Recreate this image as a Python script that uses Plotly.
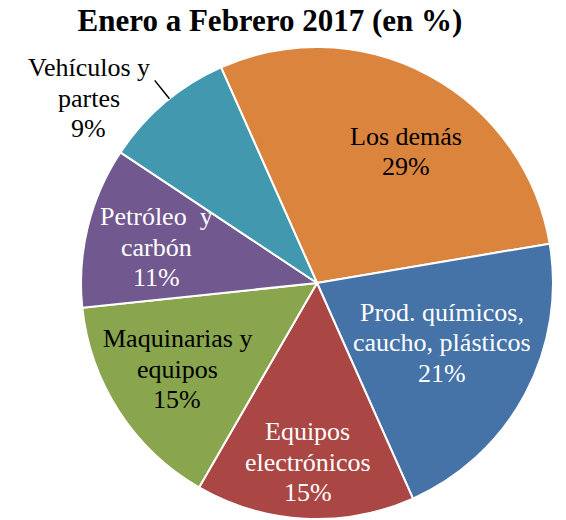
import math
import plotly.graph_objects as go

categories = ["Los demás", "Prod. químicos,<br>caucho, plásticos", "Equipos<br>electrónicos",
              "Maquinarias y<br>equipos", "Petróleo  y<br>carbón", "Vehículos y<br>partes"]
values = [29, 21, 15, 15, 11, 9]
colors = ["#DB843D", "#4572A7", "#AA4643", "#89A54E", "#71588F", "#4198AF"]
title = "Enero a Febrero 2017 (en %)"

# label styling (placement relative to slice middle, colour)
text_colors = ["black", "white", "white", "black", "white", "black"]
label_radius = [0.673, 0.588, 0.760, 0.696, 0.699, 1.244]
label_angle_shift = [5.9, -2.6, 0.0, 1.4, -1.2, -10.8]

W, H = 566, 520
cx, cy, r = 317, 283, 236
start_angle = -24  # degrees clockwise from 12 o'clock
font_size = 26
line_gap = 30.5

fig = go.Figure(go.Pie(
    labels=categories,
    values=values,
    sort=False,
    direction="clockwise",
    rotation=start_angle,
    marker=dict(colors=colors, line=dict(color="white", width=2)),
    textinfo="none",
    showlegend=False,
    hoverinfo="skip",
    domain=dict(x=[(cx - r) / W, (cx + r) / W], y=[1 - (cy + r) / H, 1 - (cy - r) / H]),
))

total = sum(values)
cum = 0
for i, (lab, v) in enumerate(zip(categories, values)):
    mid = start_angle + 360 * (cum + v / 2) / total
    cum += v
    ang = math.radians(mid + label_angle_shift[i])
    px = cx + label_radius[i] * r * math.sin(ang)
    py = cy - label_radius[i] * r * math.cos(ang)
    lines = lab.split("<br>") + [f"{v}%"]
    n = len(lines)
    for k, ln in enumerate(lines):
        ly = py + (k - (n - 1) / 2) * line_gap
        fig.add_annotation(
            x=px / W, y=1 - ly / H, xref="paper", yref="paper",
            xanchor="center", yanchor="middle",
            text=ln, showarrow=False,
            font=dict(family="Liberation Serif", size=font_size, color=text_colors[i]),
        )
    if label_radius[i] > 1:
        a2 = math.radians(mid + 1.5)
        fig.add_shape(type="line", xref="paper", yref="paper",
                      x0=(cx + 1.0 * r * math.sin(a2)) / W, y0=1 - (cy - 1.0 * r * math.cos(a2)) / H,
                      x1=(cx + 1.1 * r * math.sin(a2)) / W, y1=1 - (cy - 1.1 * r * math.cos(a2)) / H,
                      line=dict(color="black", width=1.5))

fig.update_layout(
    width=W, height=H,
    margin=dict(l=0, r=0, t=0, b=0),
    paper_bgcolor="white",
    title=dict(text=f"<b>{title}</b>", x=270 / W, xanchor="center", y=1 - 20 / H, yanchor="middle",
               font=dict(family="Liberation Serif", size=31, color="black")),
)

fig.write_html("out.html", config={"displayModeBar": False},
               post_script="document.body.style.margin='0';document.body.style.overflow='hidden';")
